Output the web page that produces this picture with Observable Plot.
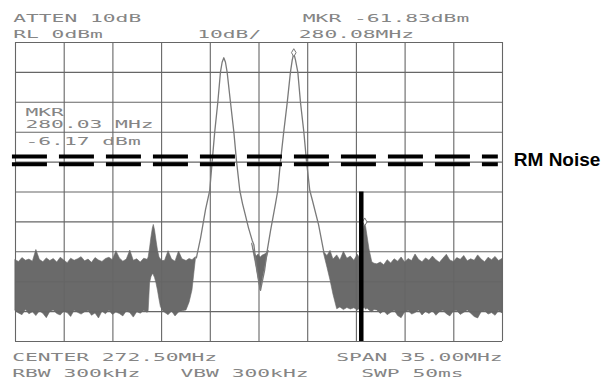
<!DOCTYPE html>
<html><head><meta charset="utf-8">
<script src="https://cdn.jsdelivr.net/npm/d3@7"></script>
<script src="https://cdn.jsdelivr.net/npm/@observablehq/plot@0.6"></script>
<style>html,body{margin:0;padding:0;background:#fff;} #chart{width:608px;height:379px;overflow:hidden;}</style>
</head><body><div id="chart"></div>
<script>
// ---- Screen scales (spectrum analyser display) ----
const gridFreqs = [255, 258.5, 262, 265.5, 269, 272.5, 276, 279.5, 283, 286.5, 290]; // MHz (3.5 MHz/div)
const gridLevels = [0, -10, -20, -30, -40, -50, -60, -70, -80, -90, -100];            // dBm (10 dB/div)

// ---- Clean trace: two carriers at 270 and 275 MHz ----
const traceFreq = [268.00,268.30,268.66,268.96,269.14,269.32,269.54,269.73,269.85,269.97,270.09,270.21,270.45,270.69,270.88,271.12,271.31,271.53,271.74,272.01,272.13,272.33,272.47,272.61,272.75,272.90,273.09,273.33,273.69,273.85,274.05,274.28,274.53,274.76,274.89,275.00,275.12,275.29,275.48,275.72,275.91,276.15,276.35,276.78,277.16];
const traceLevel = [-72.0,-65.4,-55.8,-49.5,-39.5,-29.8,-20.0,-9.9,-6.6,-5.1,-6.6,-9.9,-20.0,-29.8,-39.5,-49.5,-53.8,-57.9,-61.9,-66.2,-67.6,-75.4,-79.3,-82.9,-79.6,-76.3,-69.6,-62.9,-53.8,-49.5,-39.5,-29.8,-20.0,-9.9,-5.8,-3.6,-5.8,-9.9,-20.0,-29.8,-39.5,-49.5,-53.0,-60.9,-70.1];

// ---- Noise floor band: segment A (left floor + 265 MHz IMD spur) ----
const floorFreqA = [255.00,255.25,255.50,255.75,256.00,256.25,256.50,256.75,257.00,257.25,257.50,257.75,258.00,258.25,258.50,258.75,259.00,259.25,259.50,259.75,260.00,260.25,260.50,260.75,261.00,261.25,261.50,261.75,262.00,262.25,262.50,262.75,263.00,263.25,263.50,263.75,264.00,264.25,264.50,
  264.57,264.67,264.77,264.87,264.94,265.03,265.13,265.24,265.35,265.45,265.60,
  265.75,266.00,266.25,266.50,266.75,267.00,267.29,267.51,267.72,267.86,267.97];
const floorTopA = [-72.8,-73.4,-72.1,-73.0,-72.6,-73.3,-69.4,-72.7,-73.5,-72.2,-73.1,-72.4,-73.6,-72.0,-72.9,-73.8,-72.3,-73.0,-72.5,-71.8,-73.2,-72.6,-73.7,-72.1,-72.9,-73.4,-72.4,-72.0,-72.8,-69.8,-72.2,-73.3,-72.6,-69.6,-73.0,-72.5,-73.6,-72.3,-72.7,
  -71.9,-68.9,-65.2,-62.2,-61.0,-62.9,-66.2,-69.6,-71.9,-72.6,-73.1,
  -73.0,-69.8,-72.6,-73.3,-69.9,-72.5,-73.1,-72.4,-72.8,-72.2,-71.8];
const floorBotA = [-89.8,-90.6,-91.2,-89.5,-90.9,-90.2,-91.5,-89.9,-90.7,-92.2,-90.1,-89.6,-90.8,-91.3,-90.0,-90.5,-91.8,-89.7,-90.4,-91.0,-90.2,-89.8,-91.4,-90.6,-92.3,-90.0,-90.9,-89.7,-91.1,-90.3,-90.8,-91.6,-89.9,-90.5,-92.0,-90.2,-90.7,-89.8,-90.4,
  -89.8,-80.5,-78.5,-77.5,-77.8,-78.8,-80.5,-83.0,-86.0,-88.5,-89.8,
  -90.4,-91.2,-90.0,-91.6,-90.3,-89.9,-89.6,-87.0,-82.9,-76.9,-72.3];

// ---- segment B (noise in the dip between carriers) ----
const floorFreqB = [272.01,272.18,272.33,272.47,272.61,272.75,272.90,273.04,273.20];
const floorTopB = [-67.3,-70.4,-71.6,-70.9,-72.0,-71.3,-71.0,-70.6,-69.6];
const floorBotB = [-67.5,-71.8,-75.4,-79.3,-82.9,-79.6,-76.3,-72.9,-69.8];

// ---- segment C (right floor + 280 MHz IMD spur) ----
const floorFreqC = [277.16,277.42,277.64,277.85,278.12,278.35,278.60,278.85,279.10,279.35,279.60,279.80,
  279.95,280.10,280.20,280.30,280.44,280.64,280.80,
  281.00,281.25,281.50,281.75,282.00,282.25,282.50,282.75,283.00,283.25,283.50,283.75,284.00,284.25,284.50,284.75,285.00,285.25,285.50,285.75,286.00,286.25,286.50,286.75,287.00,287.25,287.50,287.75,288.00,288.25,288.50,288.75,289.00,289.25,289.50,289.75,290.00];
const floorTopC = [-70.1,-71.4,-69.7,-72.6,-71.2,-72.9,-70.0,-72.3,-71.6,-73.0,-71.0,-72.4,
  -64.0,-60.6,-61.8,-64.9,-69.2,-73.5,-74.0,
  -74.2,-73.6,-74.5,-72.8,-73.9,-72.5,-73.3,-71.9,-73.6,-72.4,-73.1,-70.9,-72.7,-73.5,-72.2,-73.0,-71.6,-72.8,-73.7,-72.3,-71.0,-72.9,-73.4,-72.1,-72.7,-71.4,-73.2,-72.5,-73.0,-71.2,-72.6,-73.5,-72.0,-72.8,-71.7,-73.1,-72.4];
const floorBotC = [-70.4,-75.3,-79.6,-84.3,-89.2,-88.6,-89.5,-88.8,-89.3,-88.9,-89.6,-89.0,
  -89.2,-88.8,-89.4,-89.0,-89.6,-90.2,-89.5,
  -89.6,-90.8,-89.9,-91.2,-90.4,-89.7,-91.5,-92.2,-90.3,-89.8,-91.0,-90.5,-89.6,-91.3,-90.1,-90.8,-89.9,-91.4,-90.2,-89.7,-90.9,-91.6,-90.0,-89.8,-91.1,-90.4,-89.6,-90.7,-91.8,-92.3,-90.2,-89.9,-91.0,-90.5,-91.4,-89.8,-90.6];

// ---- markers ----
const markerFreq = [275.00, 280.10];
const markerLevel = [-3.4, -60.0];

// ---- overlays ----
const rmLevels = [-38.1, -40.7];     // "RM Noise" double dashed line
const rmSpan = [254.78, 289.70];
const cutFreq = [279.85];            // black vertical bar
const cutRange = [-50, -100];

// ---- screen annotation text ----
const topLabels = ["ATTEN 10dB", "RL 0dBm", "10dB/", "MKR -61.83dBm", "280.08MHz"];
const mkrLabels = ["MKR", "280.03 MHz", "-6.17 dBm"];
const bottomLabels = ["CENTER 272.50MHz", "RBW 300kHz", "VBW 300kHz", "SPAN 35.00MHz", "SWP 50ms"];
const rmLabel = "RM Noise";

// build tables
const noiseRows = [];
[[floorFreqA, floorTopA, floorBotA, "A"], [floorFreqB, floorTopB, floorBotB, "B"], [floorFreqC, floorTopC, floorBotC, "C"]]
  .forEach(([F, T, B, s]) => F.forEach((f, i) => noiseRows.push({f, top: T[i], bot: B[i], seg: s})));
const trace = traceFreq.map((f, i) => ({f, v: traceLevel[i]}));
const markers = markerFreq.map((f, i) => ({f, v: markerLevel[i]}));

const HP = {fontFamily: "DejaVu Sans Mono", fontSize: 10.5, fill: "#858585", textAnchor: "start", lineAnchor: "bottom"};
function hp(str, frameAnchor, dx, dy) {
  return Plot.text([str], {...HP, text: d => d, frameAnchor, dx, dy});
}

const svg = Plot.plot({
  width: 608, height: 379,
  marginLeft: 15, marginRight: 106, marginTop: 42, marginBottom: 38,
  x: {domain: [255, 290], axis: null},
  y: {domain: [-100, 0], axis: null},
  style: {background: "white", overflow: "visible"},
  marks: [
    Plot.areaY(noiseRows, {x: "f", y1: "bot", y2: "top", z: "seg", fill: "#6a6a6a", stroke: "#6a6a6a", strokeWidth: 0.6, curve: "linear"}),
    Plot.ruleX(gridFreqs, {stroke: "#666", strokeWidth: 1.1}),
    Plot.ruleY(gridLevels, {stroke: "#666", strokeWidth: 1.1}),
    Plot.line(trace, {x: "f", y: "v", stroke: "#7a7a7a", strokeWidth: 1.3}),
    Plot.dot(markers, {x: "f", y: "v", symbol: "diamond", r: 2.4, stroke: "#777", fill: "white", strokeWidth: 1}),
    Plot.ruleY(rmLevels, {x1: rmSpan[0], x2: rmSpan[1], stroke: "black", strokeWidth: 4, strokeDasharray: "35,12"}),
    Plot.ruleX(cutFreq, {y1: cutRange[0], y2: cutRange[1], stroke: "black", strokeWidth: 4.5}),
    Plot.text([rmLabel], {x: rmSpan[1], y: () => d3.mean(rmLevels), dx: 15.5, text: d => d, textAnchor: "start", lineAnchor: "middle",
      fontFamily: "Liberation Sans, Arial, sans-serif", fontWeight: "bold", fontSize: 19, fill: "black"}),
    hp(topLabels[0], "top-left", -2.3, -20.3),
    hp(topLabels[1], "top-left", -2.3, -4.7),
    hp(topLabels[2], "top-left", 181.7, -4.7),
    hp(topLabels[3], "top-left", 287.3, -20.3),
    hp(topLabels[4], "top-left", 283.3, -4.7),
    hp(mkrLabels[0], "top-left", 10, 73),
    hp(mkrLabels[1], "top-left", 10, 85.7),
    hp(mkrLabels[2], "top-left", 10, 102.3),
    hp(bottomLabels[0], "bottom-left", -3.3, 19.7),
    hp(bottomLabels[1], "bottom-left", -3.3, 35.7),
    hp(bottomLabels[2], "bottom-left", 165, 35.7),
    hp(bottomLabels[3], "bottom-left", 320.7, 19.7),
    hp(bottomLabels[4], "bottom-left", 345.7, 35.7)
  ]
});

// stretch the instrument font to its fixed wide pitch
svg.querySelectorAll('g[font-family="DejaVu Sans Mono"] text').forEach(t => {
  const n = t.textContent.length;
  t.setAttribute("textLength", (n * 12.8).toFixed(1));
  t.setAttribute("lengthAdjust", "spacingAndGlyphs");
});

document.getElementById("chart").appendChild(svg);
</script></body></html>
